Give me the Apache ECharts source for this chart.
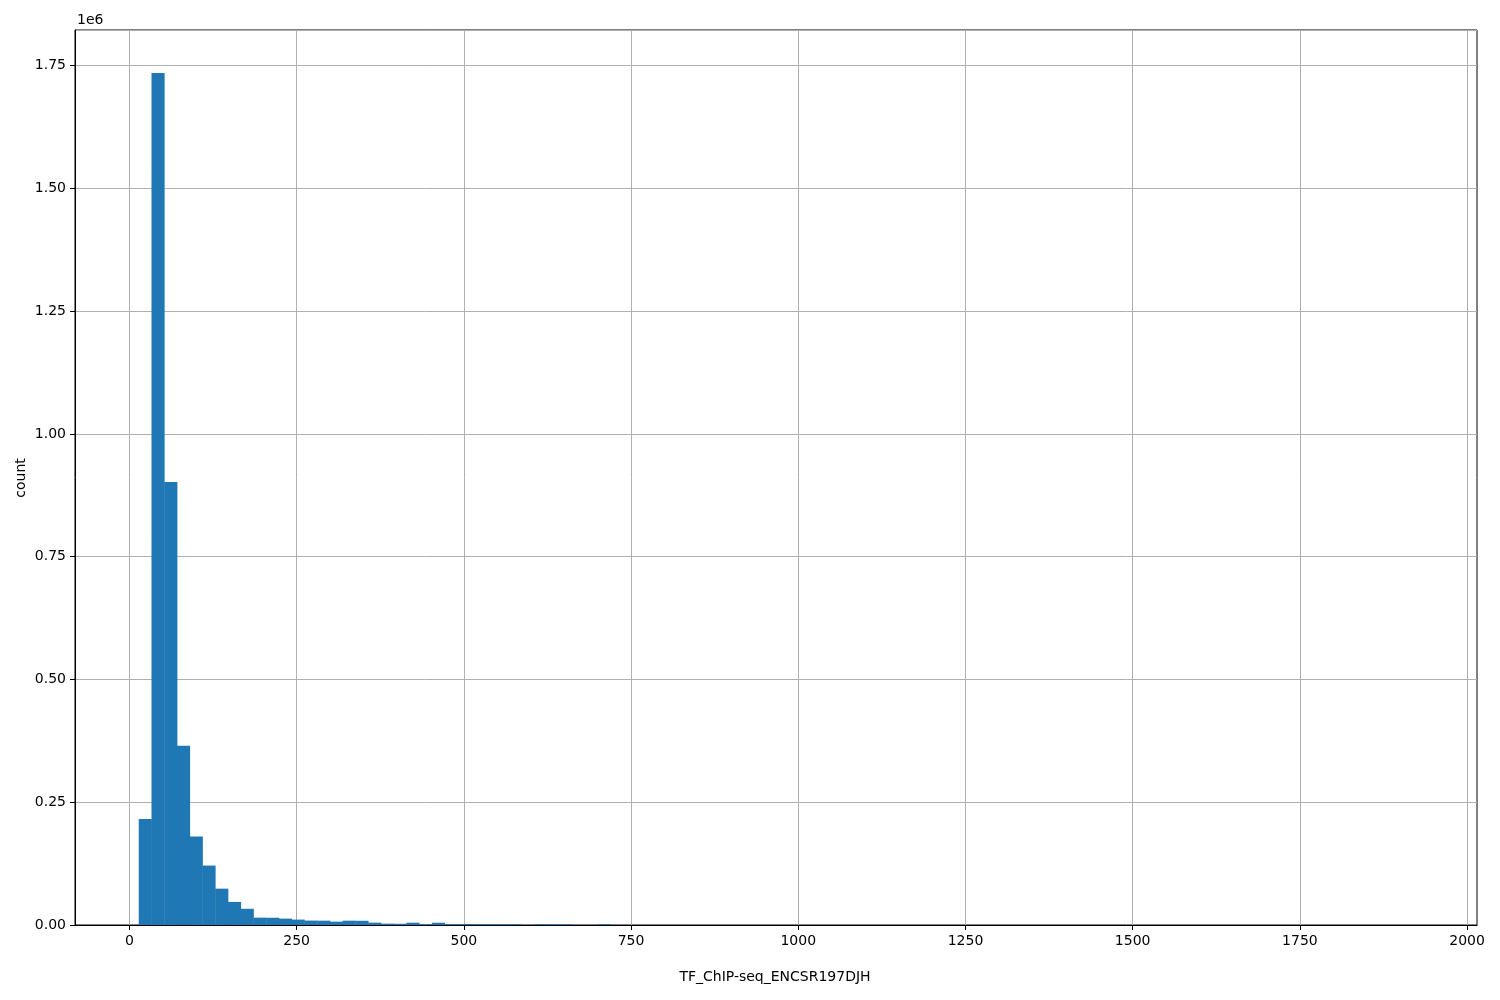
<!DOCTYPE html>
<html>
<head>
<meta charset="utf-8">
<script src="https://cdn.jsdelivr.net/npm/echarts@6/dist/echarts.min.js"></script>
<style>
html,body{margin:0;padding:0;background:#fff;}
#chart{width:1500px;height:1000px;}
</style>
</head>
<body>
<div id="chart"></div>
<script>
// Histogram: 100 bins, start and width of bins
const binStart = 13.9;
const binWidth = 19.056;
const counts = [
  216000, 1735000, 902000, 365000, 180000, 121000, 74000, 47000, 33000, 15000,
  14800, 13000, 11000, 9000, 8800, 6800, 8800, 8600, 4800, 2800,
  2500, 4700, 1500, 4600, 1800, 2000, 1800, 1700, 1600, 1500,
  100, 1500, 1400, 1300, 100, 80, 1500, 150, 120, 100,
  90, 80, 70, 60, 60, 50, 50, 40, 40, 30,
  30, 30, 20, 20, 20, 15, 15, 10, 10, 10,
  8, 8, 6, 6, 5, 5, 4, 4, 3, 3,
  3, 2, 2, 2, 2, 1, 1, 1, 1, 1,
  1, 1, 0, 1, 0, 1, 0, 0, 1, 0,
  0, 1, 0, 0, 0, 1, 0, 0, 0, 1
];
const xTicks = [0, 250, 500, 750, 1000, 1250, 1500, 1750, 2000];
const xLabel = 'TF_ChIP-seq_ENCSR197DJH';
const yLabel = 'count';
const yExponent = '1e6';

const data = counts.map((c, i) => [binStart + i * binWidth, binStart + (i + 1) * binWidth, c]);

const font = 'DejaVu Sans';
const chart = echarts.init(document.getElementById('chart'), null, {renderer: 'canvas'});
chart.setOption({
  animation: false,
  backgroundColor: '#ffffff',
  grid: {left: 75, right: 23, top: 30, bottom: 75, show: true, borderColor: '#000', borderWidth: 1, backgroundColor: 'transparent', containLabel: false},
  xAxis: {
    type: 'value', min: -81.4, max: 2014.8,
    axisLine: {show: true, onZero: false, lineStyle: {color: '#000', width: 1}},
    axisTick: {show: true, length: 5, lineStyle: {color: '#000'}, customValues: xTicks},
    axisLabel: {color: '#000', fontFamily: font, fontSize: 14, margin: 9, customValues: xTicks,
      formatter: v => String(v)},
    splitLine: {show: true, lineStyle: {color: '#b0b0b0', width: 1}}
  },
  yAxis: {
    type: 'value', min: 0, max: 1822300, interval: 250000,
    axisLine: {show: true, onZero: false, lineStyle: {color: '#000', width: 1}},
    axisTick: {show: true, length: 5, lineStyle: {color: '#000'}},
    axisLabel: {color: '#000', fontFamily: font, fontSize: 14, margin: 9, showMaxLabel: false,
      formatter: v => (v / 1e6).toFixed(2)},
    splitLine: {show: true, lineStyle: {color: '#b0b0b0', width: 1}}
  },
  series: [{
    type: 'custom',
    data: data,
    encode: {x: [0, 1], y: 2},
    renderItem: function (params, api) {
      if (api.value(2) <= 0) return null;
      const p0 = api.coord([api.value(0), 0]);
      const p1 = api.coord([api.value(1), api.value(2)]);
      return {
        type: 'rect',
        shape: {x: p0[0], y: p1[1], width: p1[0] - p0[0] + 0.4, height: p0[1] - p1[1]},
        style: {fill: '#1f77b4'}
      };
    },
    z: 3
  }],
  graphic: [
    {type: 'text', left: 77, top: 13, style: {text: yExponent, font: '14px "DejaVu Sans"', fill: '#000'}},
    {type: 'text', x: 775, y: 977, style: {text: xLabel, font: '14px "DejaVu Sans"', fill: '#000', align: 'center', verticalAlign: 'middle'}},
    {type: 'text', x: 21, y: 478, rotation: Math.PI / 2, style: {text: yLabel, font: '14px "DejaVu Sans"', fill: '#000', align: 'center', verticalAlign: 'middle'}}
  ]
});
</script>
</body>
</html>
